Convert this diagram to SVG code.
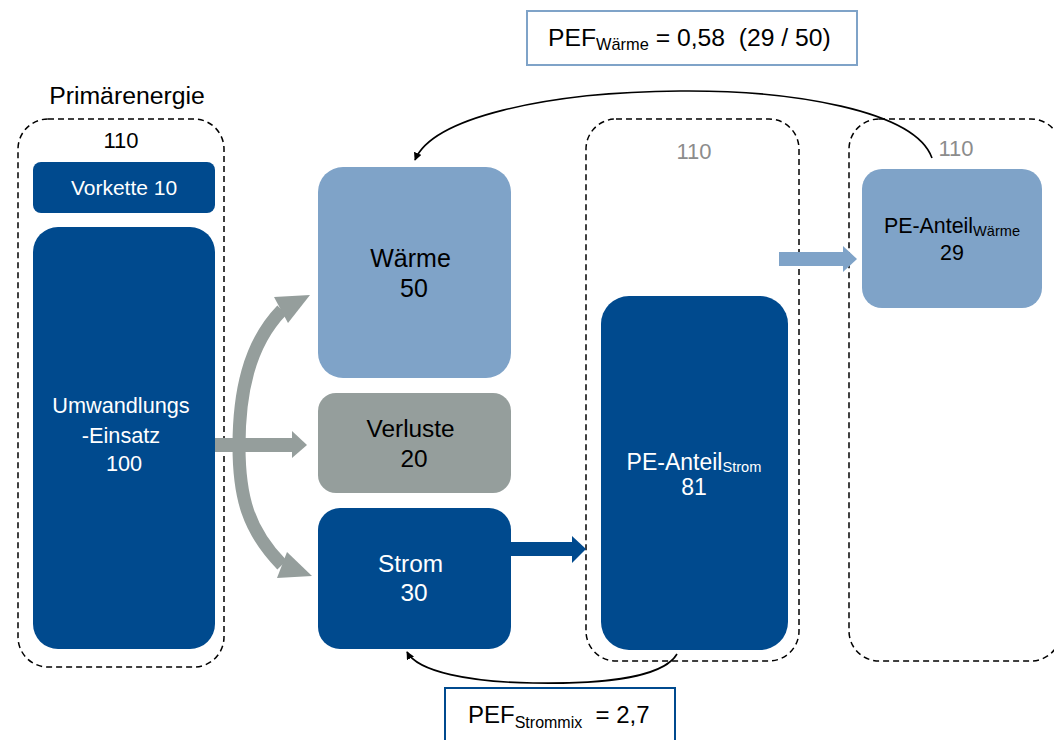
<svg xmlns="http://www.w3.org/2000/svg" width="1054" height="740" viewBox="0 0 1054 740">
  <defs>
    <style>
      text { font-family: "Liberation Sans", Arial, sans-serif; }
      .frame { fill: none; stroke: #000; stroke-width: 1.5; stroke-dasharray: 6 4; }
      .dark { fill: #004A8E; }
      .light { fill: #7FA3C8; }
      .grey { fill: #959E9C; }
      .w { fill: #fff; }
      .k { fill: #000; }
      .total { fill: #8C8C8C; font-size: 22px; }
      .flow { fill: none; stroke: #959E9C; stroke-width: 13; }
      .loop { fill: none; stroke: #000; stroke-width: 1.6; }
    </style>
    <marker id="tip" viewBox="0 0 10 10" refX="9" refY="5" markerWidth="8" markerHeight="8" orient="auto" markerUnits="userSpaceOnUse">
      <path d="M0,0 L10,5 L0,10 z" fill="#000"/>
    </marker>
  </defs>

  <!-- Primary energy column -->
  <g id="primaerenergie">
    <text x="127" y="104" text-anchor="middle" font-size="24.8" class="k">Primärenergie</text>
    <rect class="frame" x="18" y="119" width="206" height="548" rx="30"/>
    <text x="121" y="148" text-anchor="middle" font-size="22" class="k">110</text>
  </g>
  <g id="vorkette">
    <rect class="dark" x="33" y="162" width="182" height="51" rx="8"/>
    <text x="124" y="195" text-anchor="middle" font-size="21" class="w">Vorkette 10</text>
  </g>
  <g id="umwandlung">
    <rect class="dark" x="33" y="227" width="182" height="422" rx="25"/>
    <text text-anchor="middle" font-size="21.7" class="w">
      <tspan x="124" y="413">Umwandlungs</tspan>
      <tspan x="124" y="443">-Einsatz</tspan>
      <tspan x="124" y="471">100</tspan>
    </text>
  </g>

  <!-- Final energy outputs -->
  <g id="waerme">
    <rect class="light" x="318" y="167" width="193" height="211" rx="25"/>
    <text text-anchor="middle" font-size="25" class="k">
      <tspan x="414" y="267">Wärme</tspan>
      <tspan x="414" y="297">50</tspan>
    </text>
  </g>
  <g id="verluste">
    <rect class="grey" x="318" y="393" width="193" height="100" rx="18"/>
    <text text-anchor="middle" font-size="24.4" class="k">
      <tspan x="414" y="437">Verluste</tspan>
      <tspan x="414" y="467">20</tspan>
    </text>
  </g>
  <g id="strom">
    <rect class="dark" x="318" y="508" width="193" height="141" rx="22"/>
    <text text-anchor="middle" font-size="24.4" class="w">
      <tspan x="414" y="572">Strom</tspan>
      <tspan x="414" y="601">30</tspan>
    </text>
  </g>

  <!-- Allocation columns -->
  <g id="anteil-strom-rahmen">
    <rect class="frame" x="586" y="119" width="213" height="542" rx="30"/>
    <text class="total" x="694" y="159" text-anchor="middle">110</text>
  </g>
  <g id="pe-anteil-strom">
    <rect class="dark" x="601" y="296" width="187" height="354" rx="28"/>
    <text font-size="23" class="w" text-anchor="middle" x="694" y="470">PE-Anteil<tspan font-size="14.6" dy="2">Strom</tspan></text>
    <text font-size="23" class="w" text-anchor="middle" x="694" y="495">81</text>
  </g>
  <g id="anteil-waerme-rahmen">
    <rect class="frame" x="849" y="119" width="212" height="542" rx="30"/>
    <text class="total" x="956" y="156" text-anchor="middle">110</text>
  </g>
  <g id="pe-anteil-waerme">
    <rect class="light" x="862" y="169" width="180" height="139" rx="20"/>
    <text font-size="21.4" class="k" text-anchor="middle" x="952" y="233">PE-Anteil<tspan font-size="14.6" dy="3">Wärme</tspan></text>
    <text font-size="21.4" class="k" text-anchor="middle" x="952" y="260">29</text>
  </g>

  <!-- Primary energy factor labels -->
  <g id="pef-waerme">
    <rect x="527" y="11" width="330" height="54" fill="#fff" stroke="#7FA3C8" stroke-width="2"/>
    <text font-size="24.7" class="k" x="548" y="46">PEF<tspan font-size="16.4" dy="4">Wärme</tspan><tspan dy="-4"> = 0,58&#160; (29 / 50)</tspan></text>
  </g>
  <g id="pef-strommix">
    <rect x="445" y="688" width="230" height="60" fill="#fff" stroke="#004A8E" stroke-width="2"/>
    <text font-size="24" class="k" x="468" y="723">PEF<tspan font-size="16" dy="5">Strommix</tspan><tspan dy="-5">&#160; = 2,7</tspan></text>
  </g>

  <!-- Connectors -->
  <g id="connectors">
    <!-- conversion split: heat, losses, electricity -->
    <path class="flow" d="M282,310 C248,345 239,395 239,446 C239,497 248,530 282,565"/>
    <polygon class="grey" points="310,295 274,297 288,323"/>
    <polygon class="grey" points="312,576 287,552 277,578"/>
    <rect class="grey" x="215" y="438" width="78" height="14"/>
    <polygon class="grey" points="292,431 307,445 292,458"/>
    <!-- electricity to its primary energy share -->
    <rect class="dark" x="511" y="542" width="62" height="14"/>
    <polygon class="dark" points="572,536 586,549 572,563"/>
    <!-- remaining share to heat -->
    <rect class="light" x="779" y="252" width="65" height="14"/>
    <polygon class="light" points="843,246 857,259 843,272"/>
    <!-- factor feedback loops -->
    <path class="loop" marker-end="url(#tip)" d="M932,158 C915,110 790,90 680,91 C545,92 432,118 415,160"/>
    <path class="loop" marker-end="url(#tip)" d="M677,654 C662,680 590,684 533,683 C470,682 418,672 407,652"/>
  </g>
</svg>
